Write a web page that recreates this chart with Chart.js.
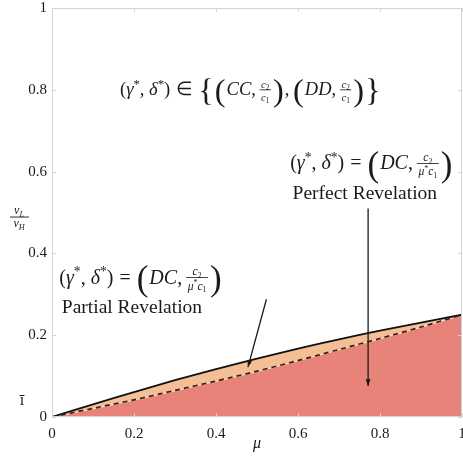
<!DOCTYPE html>
<html>
<head>
<meta charset="utf-8">
<script src="https://cdn.jsdelivr.net/npm/chart.js@4.4.1/dist/chart.umd.min.js"></script>
<style>
  body { margin: 0; background: #fff; }
  #wrap { width: 463px; height: 463px; }
</style>
</head>
<body>
<div id="wrap"><canvas id="c" width="463" height="463"></canvas></div>
<script>
var mu = [0, 0.1, 0.2, 0.3, 0.4, 0.5, 0.6, 0.7, 0.8, 0.9, 1];
// upper (solid) boundary: partial revelation region top
var upperBound = [0, 0.031, 0.061, 0.09, 0.117, 0.143, 0.167, 0.19, 0.211, 0.231, 0.25];
// lower (dashed) boundary: perfect revelation region top
var lowerBound = [0, 0.021, 0.042, 0.065, 0.088, 0.112, 0.138, 0.165, 0.192, 0.22, 0.25];
var xTicks = [0, 0.2, 0.4, 0.6, 0.8, 1];
var yTicks = [0, 0.2, 0.4, 0.6, 0.8, 1];
var lBarValue = 0.04;

var SERIF = '"Liberation Serif", "Times New Roman", serif';

function pts(ys) {
    return mu.map(function (m, i) { return { x: m, y: ys[i] }; });
}

// tiny math typesetter: tokens -> width (and draws if asked)
function mathRun(ctx, toks, x, y, size, draw) {
    var w = 0;
    toks.forEach(function (t) {
        if (t.r !== undefined || t.i !== undefined) {
            ctx.font = (t.i !== undefined ? 'italic ' : '') + size + 'px ' + SERIF;
            var s = t.i !== undefined ? t.i : t.r;
            if (draw) ctx.fillText(s, x + w, y);
            w += ctx.measureText(s).width;
        } else if (t.sup !== undefined || t.sub !== undefined) {
            var ss = size * 0.68;
            ctx.font = (t.si ? 'italic ' : '') + ss + 'px ' + SERIF;
            var s2 = t.sup !== undefined ? t.sup : t.sub;
            var dy = t.sup !== undefined ? -size * 0.38 : size * 0.22;
            if (draw) ctx.fillText(s2, x + w, y + dy);
            w += ctx.measureText(s2).width;
        } else if (t.sp !== undefined) {
            w += t.sp * size;
        } else if (t.big !== undefined) {
            var bs = size * 1.75;
            ctx.font = bs + 'px ' + SERIF;
            if (draw) ctx.fillText(t.big, x + w, y + size * 0.32);
            w += ctx.measureText(t.big).width + 1;
        } else if (t.frac) {
            var fs = size * 0.58;
            var nw = mathRun(ctx, t.frac[0], 0, 0, fs, false);
            var dw = mathRun(ctx, t.frac[1], 0, 0, fs, false);
            var fw = Math.max(nw, dw) + 3;
            if (draw) {
                mathRun(ctx, t.frac[0], x + w + (fw - nw) / 2, y - size * 0.42, fs, true);
                mathRun(ctx, t.frac[1], x + w + (fw - dw) / 2, y + size * 0.3, fs, true);
                ctx.fillRect(x + w, y - size * 0.32, fw, 0.8);
            }
            w += fw + 2;
        }
    });
    return w;
}

function mathCentered(ctx, toks, cx, cy, size) {
    ctx.textBaseline = 'alphabetic';
    ctx.textAlign = 'left';
    var w = mathRun(ctx, toks, 0, 0, size, false);
    mathRun(ctx, toks, cx - w / 2, cy + size * 0.3, size, true);
}

var gammaDelta = [{ r: '(' }, { i: 'γ' }, { sup: '*' }, { r: ',' }, { sp: 0.25 }, { i: 'δ' }, { sup: '*' }, { r: ')' }];
var c2c1 = { frac: [[{ i: 'c' }, { sub: '2' }], [{ i: 'c' }, { sub: '1' }]] };
var c2mu = { frac: [[{ i: 'c' }, { sub: '2' }], [{ i: 'μ' }, { sup: '*' }, { i: 'c' }, { sub: '1' }]] };

var mathTop = gammaDelta.concat([{ sp: 0.3 }, { r: '∈' }, { sp: 0.3 }, { big: '{' }, { big: '(' }, { i: 'CC' },
    { r: ',' }, { sp: 0.2 }, c2c1, { big: ')' }, { r: ',' }, { sp: 0.2 }, { big: '(' }, { i: 'DD' }, { r: ',' },
    { sp: 0.2 }, c2c1, { big: ')' }, { big: '}' }]);
var mathDC = gammaDelta.concat([{ sp: 0.3 }, { r: '=' }, { sp: 0.3 }, { big: '(' }, { i: 'DC' }, { r: ',' },
    { sp: 0.2 }, c2mu, { big: ')' }]);

var notes = {
    id: 'notes',
    afterDraw: function (chart) {
        var ctx = chart.ctx, xs = chart.scales.x, ys = chart.scales.y, a = chart.chartArea;
        ctx.save();
        // frame + inward ticks
        ctx.strokeStyle = '#d4d4d4';
        ctx.lineWidth = 1;
        ctx.strokeRect(a.left + 0.5, a.top + 0.5, a.right - a.left - 1, a.bottom - a.top - 1);
        ctx.beginPath();
        xTicks.forEach(function (v) {
            var px = Math.round(xs.getPixelForValue(v)) + 0.5;
            ctx.moveTo(px, a.bottom); ctx.lineTo(px, a.bottom - 4);
            ctx.moveTo(px, a.top); ctx.lineTo(px, a.top + 4);
        });
        yTicks.forEach(function (v) {
            var py = Math.round(ys.getPixelForValue(v)) + 0.5;
            ctx.moveTo(a.left, py); ctx.lineTo(a.left + 4, py);
            ctx.moveTo(a.right, py); ctx.lineTo(a.right - 4, py);
        });
        ctx.stroke();

        ctx.fillStyle = '#1a1a1a';
        ctx.strokeStyle = '#1a1a1a';
        mathCentered(ctx, mathTop, xs.getPixelForValue(0.485), ys.getPixelForValue(0.8), 18.5);
        mathCentered(ctx, mathDC, xs.getPixelForValue(0.78), ys.getPixelForValue(0.62), 20);
        mathCentered(ctx, mathDC, xs.getPixelForValue(0.217), ys.getPixelForValue(0.341), 20);

        ctx.font = '19.5px ' + SERIF;
        ctx.textAlign = 'center';
        ctx.textBaseline = 'middle';
        ctx.fillText('Perfect Revelation', xs.getPixelForValue(0.763), ys.getPixelForValue(0.546));
        ctx.fillText('Partial Revelation', xs.getPixelForValue(0.195), ys.getPixelForValue(0.268));

        function arrow(x1, y1, x2, y2) {
            var p1 = [xs.getPixelForValue(x1), ys.getPixelForValue(y1)];
            var p2 = [xs.getPixelForValue(x2), ys.getPixelForValue(y2)];
            var ang = Math.atan2(p2[1] - p1[1], p2[0] - p1[0]);
            ctx.lineWidth = 1.3;
            ctx.beginPath(); ctx.moveTo(p1[0], p1[1]); ctx.lineTo(p2[0], p2[1]); ctx.stroke();
            ctx.beginPath();
            ctx.moveTo(p2[0], p2[1]);
            ctx.lineTo(p2[0] - 7 * Math.cos(ang - 0.35), p2[1] - 7 * Math.sin(ang - 0.35));
            ctx.lineTo(p2[0] - 7 * Math.cos(ang + 0.35), p2[1] - 7 * Math.sin(ang + 0.35));
            ctx.closePath(); ctx.fill();
        }
        arrow(0.771, 0.51, 0.771, 0.076);
        arrow(0.523, 0.288, 0.478, 0.122);

        // l-bar marker on the y axis
        ctx.font = '16px ' + SERIF;
        ctx.textAlign = 'center';
        ctx.fillText('ī', 22, ys.getPixelForValue(lBarValue));

        // y axis title v_L / v_H
        var cx = 19, cy = ys.getPixelForValue(0.49);
        ctx.fillRect(cx - 9, cy, 19, 0.9);
        mathCentered(ctx, [{ i: 'v' }, { sub: 'L', si: true }], cx, cy - 6, 12);
        mathCentered(ctx, [{ i: 'v' }, { sub: 'H', si: true }], cx, cy + 7, 12);

        // x axis title
        ctx.font = 'italic 16px ' + SERIF;
        ctx.textAlign = 'center';
        ctx.fillText('μ', xs.getPixelForValue(0.5), 448);
        ctx.restore();
    }
};

new Chart(document.getElementById('c'), {
    type: 'line',
    data: {
        datasets: [
            { data: pts(lowerBound), fill: 'origin', backgroundColor: '#e8837a', order: 3,
              borderColor: 'rgba(255,236,228,0.95)', borderWidth: 1.6, pointRadius: 0, tension: 0.3 },
            { data: pts(upperBound), fill: 0, backgroundColor: '#f4bf96', order: 2,
              borderColor: '#111', borderWidth: 1.8, pointRadius: 0, tension: 0.3 },
            { data: pts(lowerBound), fill: false, borderColor: '#3b2018', borderDash: [5, 4], order: 1,
              borderWidth: 1.7, pointRadius: 0, tension: 0.3 }
        ]
    },
    options: {
        responsive: false,
        animation: false,
        layout: { padding: { top: 8, right: 1, left: 0, bottom: 0 } },
        plugins: { legend: { display: false }, tooltip: { enabled: false } },
        scales: {
            x: {
                type: 'linear', min: 0, max: 1,
                afterBuildTicks: function (s) { s.ticks = xTicks.map(function (v) { return { value: v }; }); },
                afterFit: function (s) { s.height = 46; s.paddingLeft = 0; s.paddingRight = 0; },
                grid: { display: false, drawTicks: false },
                border: { display: false },
                ticks: { padding: 8, color: '#1a1a1a', font: { family: SERIF, size: 15 },
                         maxRotation: 0, callback: function (v) { return String(v); } }
            },
            y: {
                type: 'linear', min: 0, max: 1,
                afterBuildTicks: function (s) { s.ticks = yTicks.map(function (v) { return { value: v }; }); },
                afterFit: function (s) { s.width = 52; s.paddingTop = 0; s.paddingBottom = 0; },
                grid: { display: false, drawTicks: false },
                border: { display: false },
                ticks: { padding: 5, color: '#1a1a1a', font: { family: SERIF, size: 15 },
                         callback: function (v) { return String(v); } }
            }
        }
    },
    plugins: [notes]
});
</script>
</body>
</html>
